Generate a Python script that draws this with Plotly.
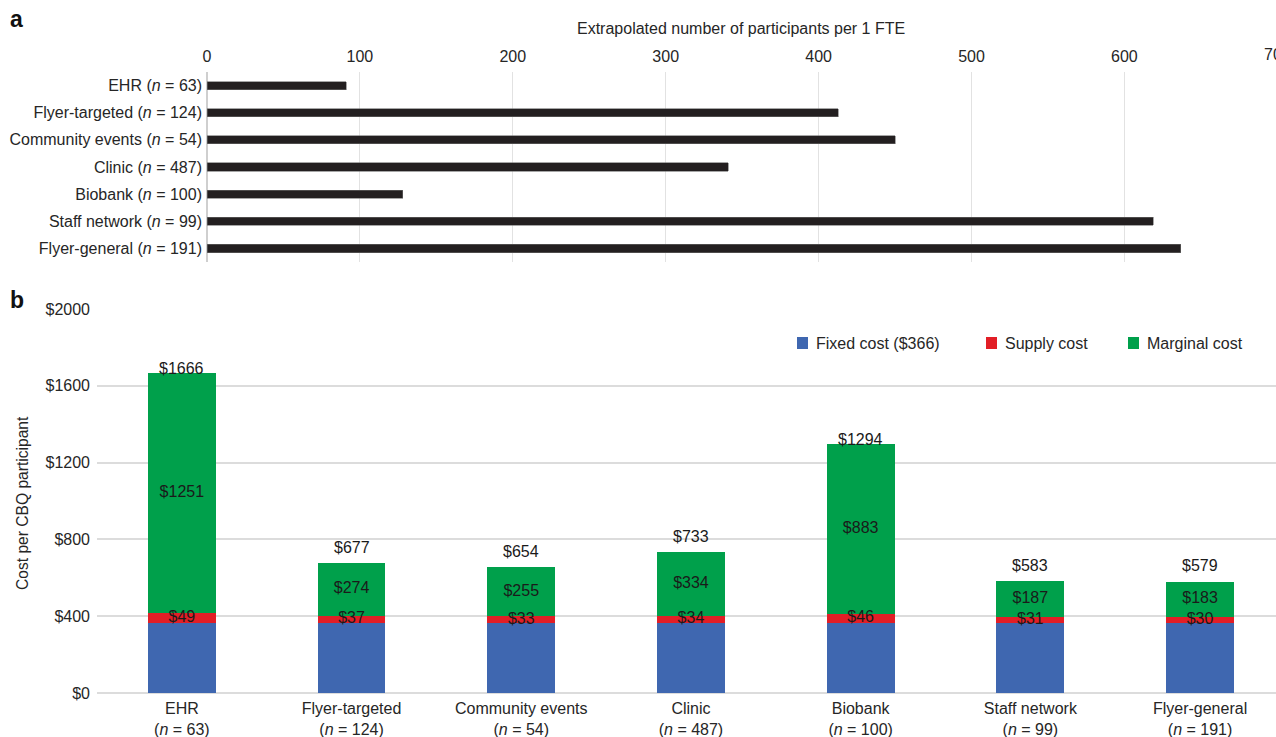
import plotly.graph_objects as go

# ---- data ----
channels = ["EHR", "Flyer-targeted", "Community events", "Clinic",
            "Biobank", "Staff network", "Flyer-general"]
n_counts = [63, 124, 54, 487, 100, 99, 191]

# panel a: extrapolated participants per 1 FTE
participants_per_fte = [91, 413, 450, 341, 128, 619, 637]

# panel b: cost per CBQ participant (USD)
fixed_cost = [366, 366, 366, 366, 366, 366, 366]
supply_cost = [49, 37, 33, 34, 46, 31, 30]
marginal_cost = [1251, 274, 255, 334, 883, 187, 183]
total_cost = [1666, 677, 654, 733, 1294, 583, 579]

fte_ticks = [0, 100, 200, 300, 400, 500, 600]
cost_ticks = [0, 400, 800, 1200, 1600, 2000]

# ---- layout helpers (pixel -> paper) ----
W, H = 1276, 737
def px(x):
    return x / W
def py(y):
    return 1 - y / H

FONT = "Liberation Sans, Arial, Helvetica, sans-serif"
FS = 16
TXT = "#262626"
BLUE, RED, GREEN = "#3F67B0", "#E21E26", "#00A04B"

label_a = [f"{c} (<i>n</i> = {n})" for c, n in zip(channels, n_counts)]
label_b = [f"{c}<br>(<i>n</i> = {n})" for c, n in zip(channels, n_counts)]

fig = go.Figure()

# panel a: horizontal bars
fig.add_trace(go.Bar(
    x=participants_per_fte, y=label_a, orientation="h",
    width=0.3, marker=dict(color="#231F20", line=dict(color="#6b6b6b", width=0.6)),
    xaxis="x", yaxis="y", showlegend=False, hoverinfo="x+y",
))

# panel b: stacked cost bars
for name, vals, col in [("Fixed cost ($366)", fixed_cost, BLUE),
                        ("Supply cost", supply_cost, RED),
                        ("Marginal cost", marginal_cost, GREEN)]:
    fig.add_trace(go.Bar(
        x=label_b, y=vals, name=name, width=0.4,
        marker=dict(color=col, line=dict(width=0)),
        xaxis="x2", yaxis="y2", showlegend=False,
    ))

# segment value labels, centred in each segment
supply_mid = [f + s / 2 for f, s in zip(fixed_cost, supply_cost)]
marginal_mid = [f + s + m / 2 for f, s, m in zip(fixed_cost, supply_cost, marginal_cost)]
fig.add_trace(go.Scatter(
    x=label_b + label_b, y=supply_mid + marginal_mid, mode="text",
    text=[f"${v}" for v in supply_cost] + [f"${v}" for v in marginal_cost],
    textposition="middle center", textfont=dict(family=FONT, size=FS, color="#1a1a1a"),
    xaxis="x2", yaxis="y2", showlegend=False, hoverinfo="skip",
))

annotations = []
# totals above each bar; the tallest bars carry the label tight to the top
for lab, tot in zip(label_b, total_cost):
    annotations.append(dict(
        x=lab, y=tot, xref="x2", yref="y2", text=f"${tot}", showarrow=False,
        yanchor="middle", yshift=5 if tot > 1000 else 16,
        font=dict(family=FONT, size=FS, color="#1a1a1a"),
    ))

# axis titles
annotations.append(dict(
    x=px(741), y=py(28), xref="paper", yref="paper", showarrow=False,
    text="Extrapolated number of participants per 1 FTE",
    font=dict(family=FONT, size=FS, color=TXT), xanchor="center", yanchor="middle",
))
annotations.append(dict(
    x=px(22), y=py(503), xref="paper", yref="paper", showarrow=False,
    text="Cost per CBQ participant", textangle=-90,
    font=dict(family=FONT, size=15.6, color=TXT), xanchor="center", yanchor="middle",
))
# last tick of the FTE axis sits on the right edge
annotations.append(dict(
    x=px(1277), y=py(55), xref="paper", yref="paper", showarrow=False,
    text="700", font=dict(family=FONT, size=FS, color=TXT),
    xanchor="center", yanchor="middle",
))
# panel letters
for letter, yy in [("a", 19), ("b", 300)]:
    annotations.append(dict(
        x=px(8), y=py(yy), xref="paper", yref="paper", showarrow=False,
        text=f"<b>{letter}</b>", font=dict(family=FONT, size=23, color="#111"),
        xanchor="left", yanchor="middle",
    ))

# legend
shapes = []
legend_items = [("Fixed cost ($366)", BLUE, 797), ("Supply cost", RED, 986),
                ("Marginal cost", GREEN, 1128)]
for name, col, x0 in legend_items:
    shapes.append(dict(type="rect", xref="paper", yref="paper",
                       x0=px(x0), x1=px(x0 + 11), y0=py(349), y1=py(337),
                       fillcolor=col, line=dict(width=0)))
    annotations.append(dict(
        x=px(x0 + 17), y=py(343), xref="paper", yref="paper", showarrow=False,
        text=name, font=dict(family=FONT, size=FS, color=TXT),
        xanchor="left", yanchor="middle",
    ))

fig.update_layout(
    width=W, height=H,
    margin=dict(l=0, r=0, t=0, b=0, autoexpand=False),
    paper_bgcolor="white", plot_bgcolor="white",
    barmode="stack",
    font=dict(family=FONT, size=FS, color=TXT),
    annotations=annotations, shapes=shapes,
    xaxis=dict(
        domain=[px(207), 1], range=[0, (W - 207) / 1.529], side="top", anchor="y",
        tickvals=fte_ticks, ticktext=[str(v) for v in fte_ticks],
        showgrid=True, gridcolor="#e2e2e2", gridwidth=1,
        zeroline=True, zerolinecolor="#cfcfcf", zerolinewidth=2,
        showline=False, ticks="", ticklabelstandoff=6, automargin=False,
        tickfont=dict(family=FONT, size=FS, color=TXT), fixedrange=True,
    ),
    yaxis=dict(
        domain=[py(262), py(72)], anchor="x", autorange="reversed",
        showgrid=False, zeroline=False, showline=False, ticks="",
        ticklabelstandoff=4, automargin=False,
        tickfont=dict(family=FONT, size=FS, color=TXT), fixedrange=True,
    ),
    xaxis2=dict(
        domain=[px(97), 1], range=[-0.5, -0.5 + (W - 97) / 169.7], anchor="y2",
        showgrid=False, zeroline=False, showline=False, ticks="",
        ticklabelstandoff=4, automargin=False,
        tickfont=dict(family=FONT, size=FS, color=TXT), fixedrange=True,
    ),
    yaxis2=dict(
        domain=[py(693), py(309)], range=[0, 2000], anchor="x2",
        tickvals=cost_ticks, ticktext=[f"${v}" for v in cost_ticks],
        showgrid=True, gridcolor="#dcdcdc", gridwidth=2,
        zeroline=True, zerolinecolor="#dcdcdc", zerolinewidth=2,
        showline=False, ticks="", ticklabelstandoff=6, automargin=False,
        tickfont=dict(family=FONT, size=FS, color=TXT), fixedrange=True,
    ),
)

fig.write_html("out.html", config={"displayModeBar": False})
